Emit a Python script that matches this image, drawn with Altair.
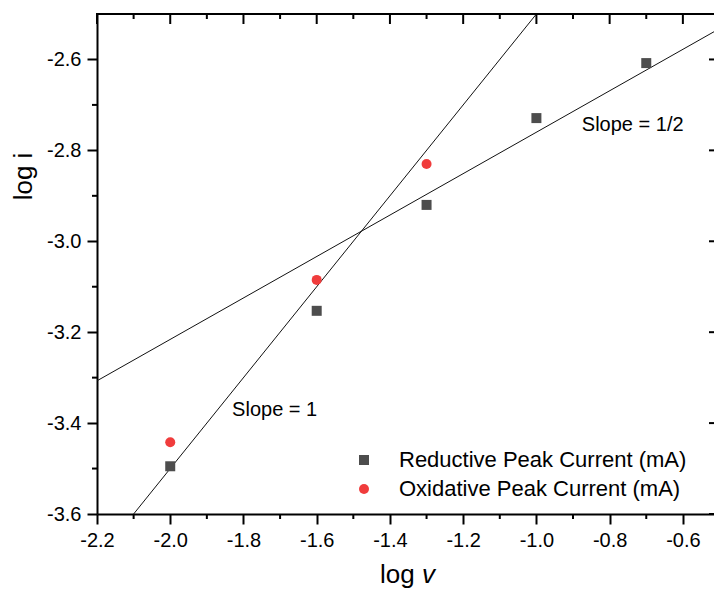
import altair as alt
import pandas as pd

# ---- data ----
series_names = ["Reductive Peak Current (mA)", "Oxidative Peak Current (mA)"]
red_x = [-2.0, -1.6, -1.3, -1.0, -0.7]
red_y = [-3.495, -3.153, -2.920, -2.729, -2.608]
ox_x = [-2.0, -1.6, -1.3]
ox_y = [-3.442, -3.085, -2.830]

slope1_x = [-2.1, -1.0]
slope1_y = [-3.6, -2.5]
half_x = [-2.2, -0.515]
half_y = [-3.307, -2.539]

x_major = [-2.2, -2.0, -1.8, -1.6, -1.4, -1.2, -1.0, -0.8, -0.6]
x_minor = [-2.1, -1.9, -1.7, -1.5, -1.3, -1.1, -0.9, -0.7]
y_major = [-3.6, -3.4, -3.2, -3.0, -2.8, -2.6]
y_minor = [-3.5, -3.3, -3.1, -2.9, -2.7]

ann_text = ["Slope = 1", "Slope = 1/2"]
ann_x = [-1.831, -0.876]
ann_y = [-3.372, -2.745]

W, H = 617, 500
FONT = "Liberation Sans"
GREY = "#4d4d4d"
RED = "#f03c3c"

pts = pd.DataFrame({
    "x": red_x + ox_x,
    "y": red_y + ox_y,
    "series": [series_names[0]] * len(red_x) + [series_names[1]] * len(ox_x),
})
fits = pd.DataFrame({
    "x": slope1_x + half_x,
    "y": slope1_y + half_y,
    "fit": ["one"] * 2 + ["half"] * 2,
})
ann = pd.DataFrame({"x": ann_x, "y": ann_y, "label": ann_text})
xmaj = pd.DataFrame({"x": x_major})
xmin = pd.DataFrame({"x": x_minor})
ymaj = pd.DataFrame({"y": y_major})
ymin = pd.DataFrame({"y": y_minor})
one = pd.DataFrame({"a": [0]})

xs = alt.Scale(domain=[-2.2, -0.515], nice=False, zero=False)
ys = alt.Scale(domain=[-3.6, -2.5], nice=False, zero=False)

label_expr = "replace(format(datum.value, '.1f'), '\u2212', '-')"
xaxis = alt.Axis(values=x_major, labelExpr=label_expr, title=None, grid=False,
                 tickSize=10, tickWidth=2, tickColor="black", domainWidth=2,
                 domainColor="black", labelFontSize=20, labelFont=FONT,
                 labelColor="black", labelPadding=6, labelFlush=False)
yaxis = alt.Axis(values=y_major, labelExpr=label_expr, title="log i", grid=False,
                 tickSize=10, tickWidth=2, tickColor="black", domainWidth=2,
                 domainColor="black", labelFontSize=20, labelFont=FONT,
                 labelColor="black", labelPadding=6, labelFlush=False,
                 titleFontSize=26, titleFont=FONT, titleFontWeight="normal",
                 titleColor="black", titleAngle=270, titleX=-66, titleY=162,
                 titleAlign="center", titleBaseline="alphabetic")

X = alt.X("x:Q", scale=xs, axis=xaxis)
Y = alt.Y("y:Q", scale=ys, axis=yaxis)

leg = alt.Legend(orient="none", legendX=256, legendY=435, title=None,
                 labelFontSize=22, labelFont=FONT, labelColor="black",
                 symbolSize=100, labelOffset=24, rowPadding=7, padding=0,
                 symbolStrokeWidth=0, labelLimit=500)

points = alt.Chart(pts).mark_point(filled=True, opacity=1, size=100, strokeWidth=0).encode(
    x=X, y=Y,
    color=alt.Color("series:N", scale=alt.Scale(domain=series_names, range=[GREY, RED]), legend=leg),
    shape=alt.Shape("series:N", scale=alt.Scale(domain=series_names, range=["square", "circle"]), legend=leg),
)

lines = alt.Chart(fits).mark_line(color="#111111", strokeWidth=1, clip=True).encode(
    x=X, y=Y, detail="fit:N"
)

texts = alt.Chart(ann).mark_text(align="left", baseline="middle", fontSize=20,
                                 font=FONT, color="black").encode(x=X, y=Y, text="label:N")

rule_kw = dict(color="black", strokeWidth=2)
bottom_minor = alt.Chart(xmin).mark_rule(**rule_kw).encode(x=X, y=alt.value(H), y2=alt.value(H + 5))
top_major = alt.Chart(xmaj).mark_rule(**rule_kw).encode(x=X, y=alt.value(0), y2=alt.value(10))
top_minor = alt.Chart(xmin).mark_rule(**rule_kw).encode(x=X, y=alt.value(0), y2=alt.value(5))
left_minor = alt.Chart(ymin).mark_rule(**rule_kw).encode(y=Y, x=alt.value(-5), x2=alt.value(0))
right_major = alt.Chart(ymaj).mark_rule(**rule_kw).encode(y=Y, x=alt.value(W - 5), x2=alt.value(W))
top_border = alt.Chart(one).mark_rule(**rule_kw).encode(
    x=alt.value(-1), x2=alt.value(W), y=alt.value(0))

xtitle_log = alt.Chart(one).mark_text(align="left", baseline="alphabetic", fontSize=26,
                                      font=FONT, color="black").encode(
    x=alt.value(283), y=alt.value(569), text=alt.value("log"))
xtitle_v = alt.Chart(one).mark_text(align="left", baseline="alphabetic", fontSize=26,
                                    font=FONT, fontStyle="italic", color="black").encode(
    x=alt.value(325), y=alt.value(569), text=alt.value("v"))

chart = alt.layer(
    lines, bottom_minor, top_major, top_minor, left_minor, right_major, top_border,
    points, texts, xtitle_log, xtitle_v
).properties(
    width=W, height=H,
    autosize=alt.AutoSizeParams(type="none"),
    padding={"left": 97, "top": 14, "right": 0, "bottom": 76},
).configure_view(stroke=None).configure(font=FONT)

chart.save("out.html", embed_options={"renderer": "svg", "actions": False})
